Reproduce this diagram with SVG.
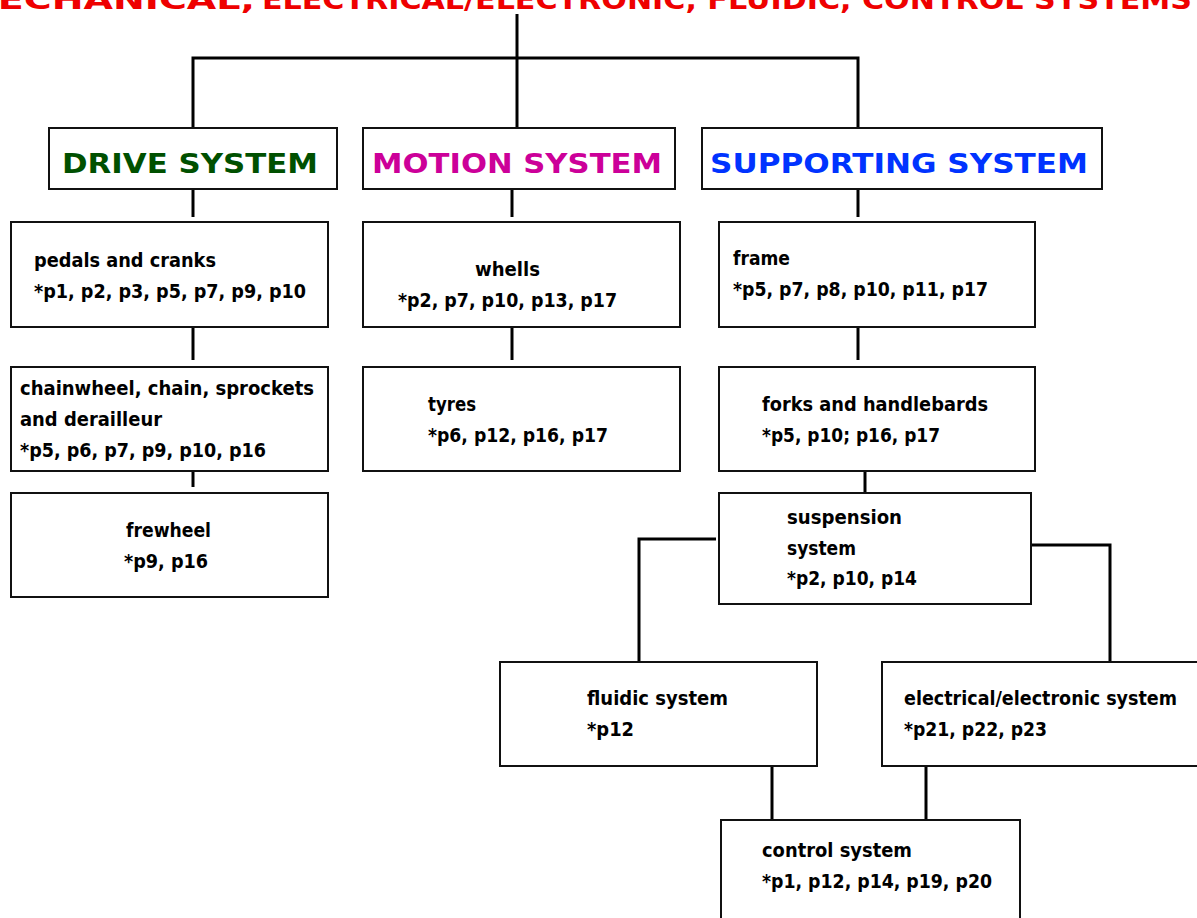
<svg xmlns="http://www.w3.org/2000/svg" width="1197" height="918" viewBox="0 0 1197 918">
<style>
.bg{fill:#ffffff}
.box{fill:#ffffff;stroke:#111;stroke-width:2}
.ln{fill:none;stroke:#000;stroke-width:3}
.hd{font-family:"DejaVu Sans","Verdana",sans-serif;font-weight:bold;font-size:27px}
.tx{font-family:"Liberation Sans Narrow","DejaVu Sans Condensed","Liberation Sans",sans-serif;font-weight:bold;font-size:20px;fill:#000}
.title{font-family:"DejaVu Sans","Verdana",sans-serif;font-weight:bold;font-size:26px;fill:#ee0000}
</style>
<rect class="bg" x="0" y="0" width="1197" height="918"/>
<g id="title">
<text class="title" x="-40" y="9" textLength="295" lengthAdjust="spacingAndGlyphs">MECHANICAL,</text>
<text class="title" x="262" y="9" textLength="930" lengthAdjust="spacingAndGlyphs">ELECTRICAL/ELECTRONIC, FLUIDIC, CONTROL SYSTEMS</text>
</g>
<g id="connectors">
<path class="ln" d="M517 14 V128"/>
<path class="ln" d="M193 128 V58 H858 V128"/>
<path class="ln" d="M193 189 V217"/>
<path class="ln" d="M512 189 V217"/>
<path class="ln" d="M858 189 V217"/>
<path class="ln" d="M193 327 V360"/>
<path class="ln" d="M512 327 V360"/>
<path class="ln" d="M858 327 V360"/>
<path class="ln" d="M193 471 V487"/>
<path class="ln" d="M865 471 V493"/>
<path class="ln" d="M716 539 H639 V662"/>
<path class="ln" d="M1031 545 H1110 V662"/>
<path class="ln" d="M772 766 V820"/>
<path class="ln" d="M926 766 V820"/>
</g>
<g id="drive">
<rect class="box" x="49" y="128" width="288" height="61"/>
<text class="hd" x="62" y="173" fill="#005000" textLength="256" lengthAdjust="spacingAndGlyphs">DRIVE SYSTEM</text>
</g>
<g id="motion">
<rect class="box" x="363" y="128" width="312" height="61"/>
<text class="hd" x="372" y="173" fill="#cc0099" textLength="290" lengthAdjust="spacingAndGlyphs">MOTION SYSTEM</text>
</g>
<g id="supporting">
<rect class="box" x="702" y="128" width="400" height="61"/>
<text class="hd" x="710" y="173" fill="#0033ff" textLength="378" lengthAdjust="spacingAndGlyphs">SUPPORTING SYSTEM</text>
</g>
<g id="pedals">
<rect class="box" x="11" y="222" width="317" height="105"/>
<text class="tx" x="34" y="267" textLength="182" lengthAdjust="spacingAndGlyphs">pedals and cranks</text>
<text class="tx" x="34" y="298" textLength="272" lengthAdjust="spacingAndGlyphs">*p1, p2, p3, p5, p7, p9, p10</text>
</g>
<g id="whells">
<rect class="box" x="363" y="222" width="317" height="105"/>
<text class="tx" x="475" y="276" textLength="65" lengthAdjust="spacingAndGlyphs">whells</text>
<text class="tx" x="398" y="307" textLength="219" lengthAdjust="spacingAndGlyphs">*p2, p7, p10, p13, p17</text>
</g>
<g id="frame">
<rect class="box" x="719" y="222" width="316" height="105"/>
<text class="tx" x="733" y="265" textLength="57" lengthAdjust="spacingAndGlyphs">frame</text>
<text class="tx" x="733" y="296" textLength="255" lengthAdjust="spacingAndGlyphs">*p5, p7, p8, p10, p11, p17</text>
</g>
<g id="chainwheel">
<rect class="box" x="11" y="367" width="317" height="104"/>
<text class="tx" x="20" y="395" textLength="294" lengthAdjust="spacingAndGlyphs">chainwheel, chain, sprockets</text>
<text class="tx" x="20" y="426" textLength="142" lengthAdjust="spacingAndGlyphs">and derailleur</text>
<text class="tx" x="20" y="457" textLength="246" lengthAdjust="spacingAndGlyphs">*p5, p6, p7, p9, p10, p16</text>
</g>
<g id="tyres">
<rect class="box" x="363" y="367" width="317" height="104"/>
<text class="tx" x="428" y="411" textLength="48" lengthAdjust="spacingAndGlyphs">tyres</text>
<text class="tx" x="428" y="442" textLength="180" lengthAdjust="spacingAndGlyphs">*p6, p12, p16, p17</text>
</g>
<g id="forks">
<rect class="box" x="719" y="367" width="316" height="104"/>
<text class="tx" x="762" y="411" textLength="226" lengthAdjust="spacingAndGlyphs">forks and handlebards</text>
<text class="tx" x="762" y="442" textLength="178" lengthAdjust="spacingAndGlyphs">*p5, p10; p16, p17</text>
</g>
<g id="frewheel">
<rect class="box" x="11" y="493" width="317" height="104"/>
<text class="tx" x="126" y="537" textLength="85" lengthAdjust="spacingAndGlyphs">frewheel</text>
<text class="tx" x="124" y="568" textLength="84" lengthAdjust="spacingAndGlyphs">*p9, p16</text>
</g>
<g id="suspension">
<rect class="box" x="719" y="493" width="312" height="111"/>
<text class="tx" x="787" y="524" textLength="115" lengthAdjust="spacingAndGlyphs">suspension</text>
<text class="tx" x="787" y="555" textLength="69" lengthAdjust="spacingAndGlyphs">system</text>
<text class="tx" x="787" y="585" textLength="130" lengthAdjust="spacingAndGlyphs">*p2, p10, p14</text>
</g>
<g id="fluidic">
<rect class="box" x="500" y="662" width="317" height="104"/>
<text class="tx" x="587" y="705" textLength="141" lengthAdjust="spacingAndGlyphs">fluidic system</text>
<text class="tx" x="587" y="736" textLength="47" lengthAdjust="spacingAndGlyphs">*p12</text>
</g>
<g id="electrical">
<rect class="box" x="882" y="662" width="330" height="104"/>
<text class="tx" x="904" y="705" textLength="273" lengthAdjust="spacingAndGlyphs">electrical/electronic system</text>
<text class="tx" x="904" y="736" textLength="143" lengthAdjust="spacingAndGlyphs">*p21, p22, p23</text>
</g>
<g id="control">
<rect class="box" x="721" y="820" width="299" height="110"/>
<text class="tx" x="762" y="857" textLength="150" lengthAdjust="spacingAndGlyphs">control system</text>
<text class="tx" x="762" y="888" textLength="230" lengthAdjust="spacingAndGlyphs">*p1, p12, p14, p19, p20</text>
</g>
</svg>
